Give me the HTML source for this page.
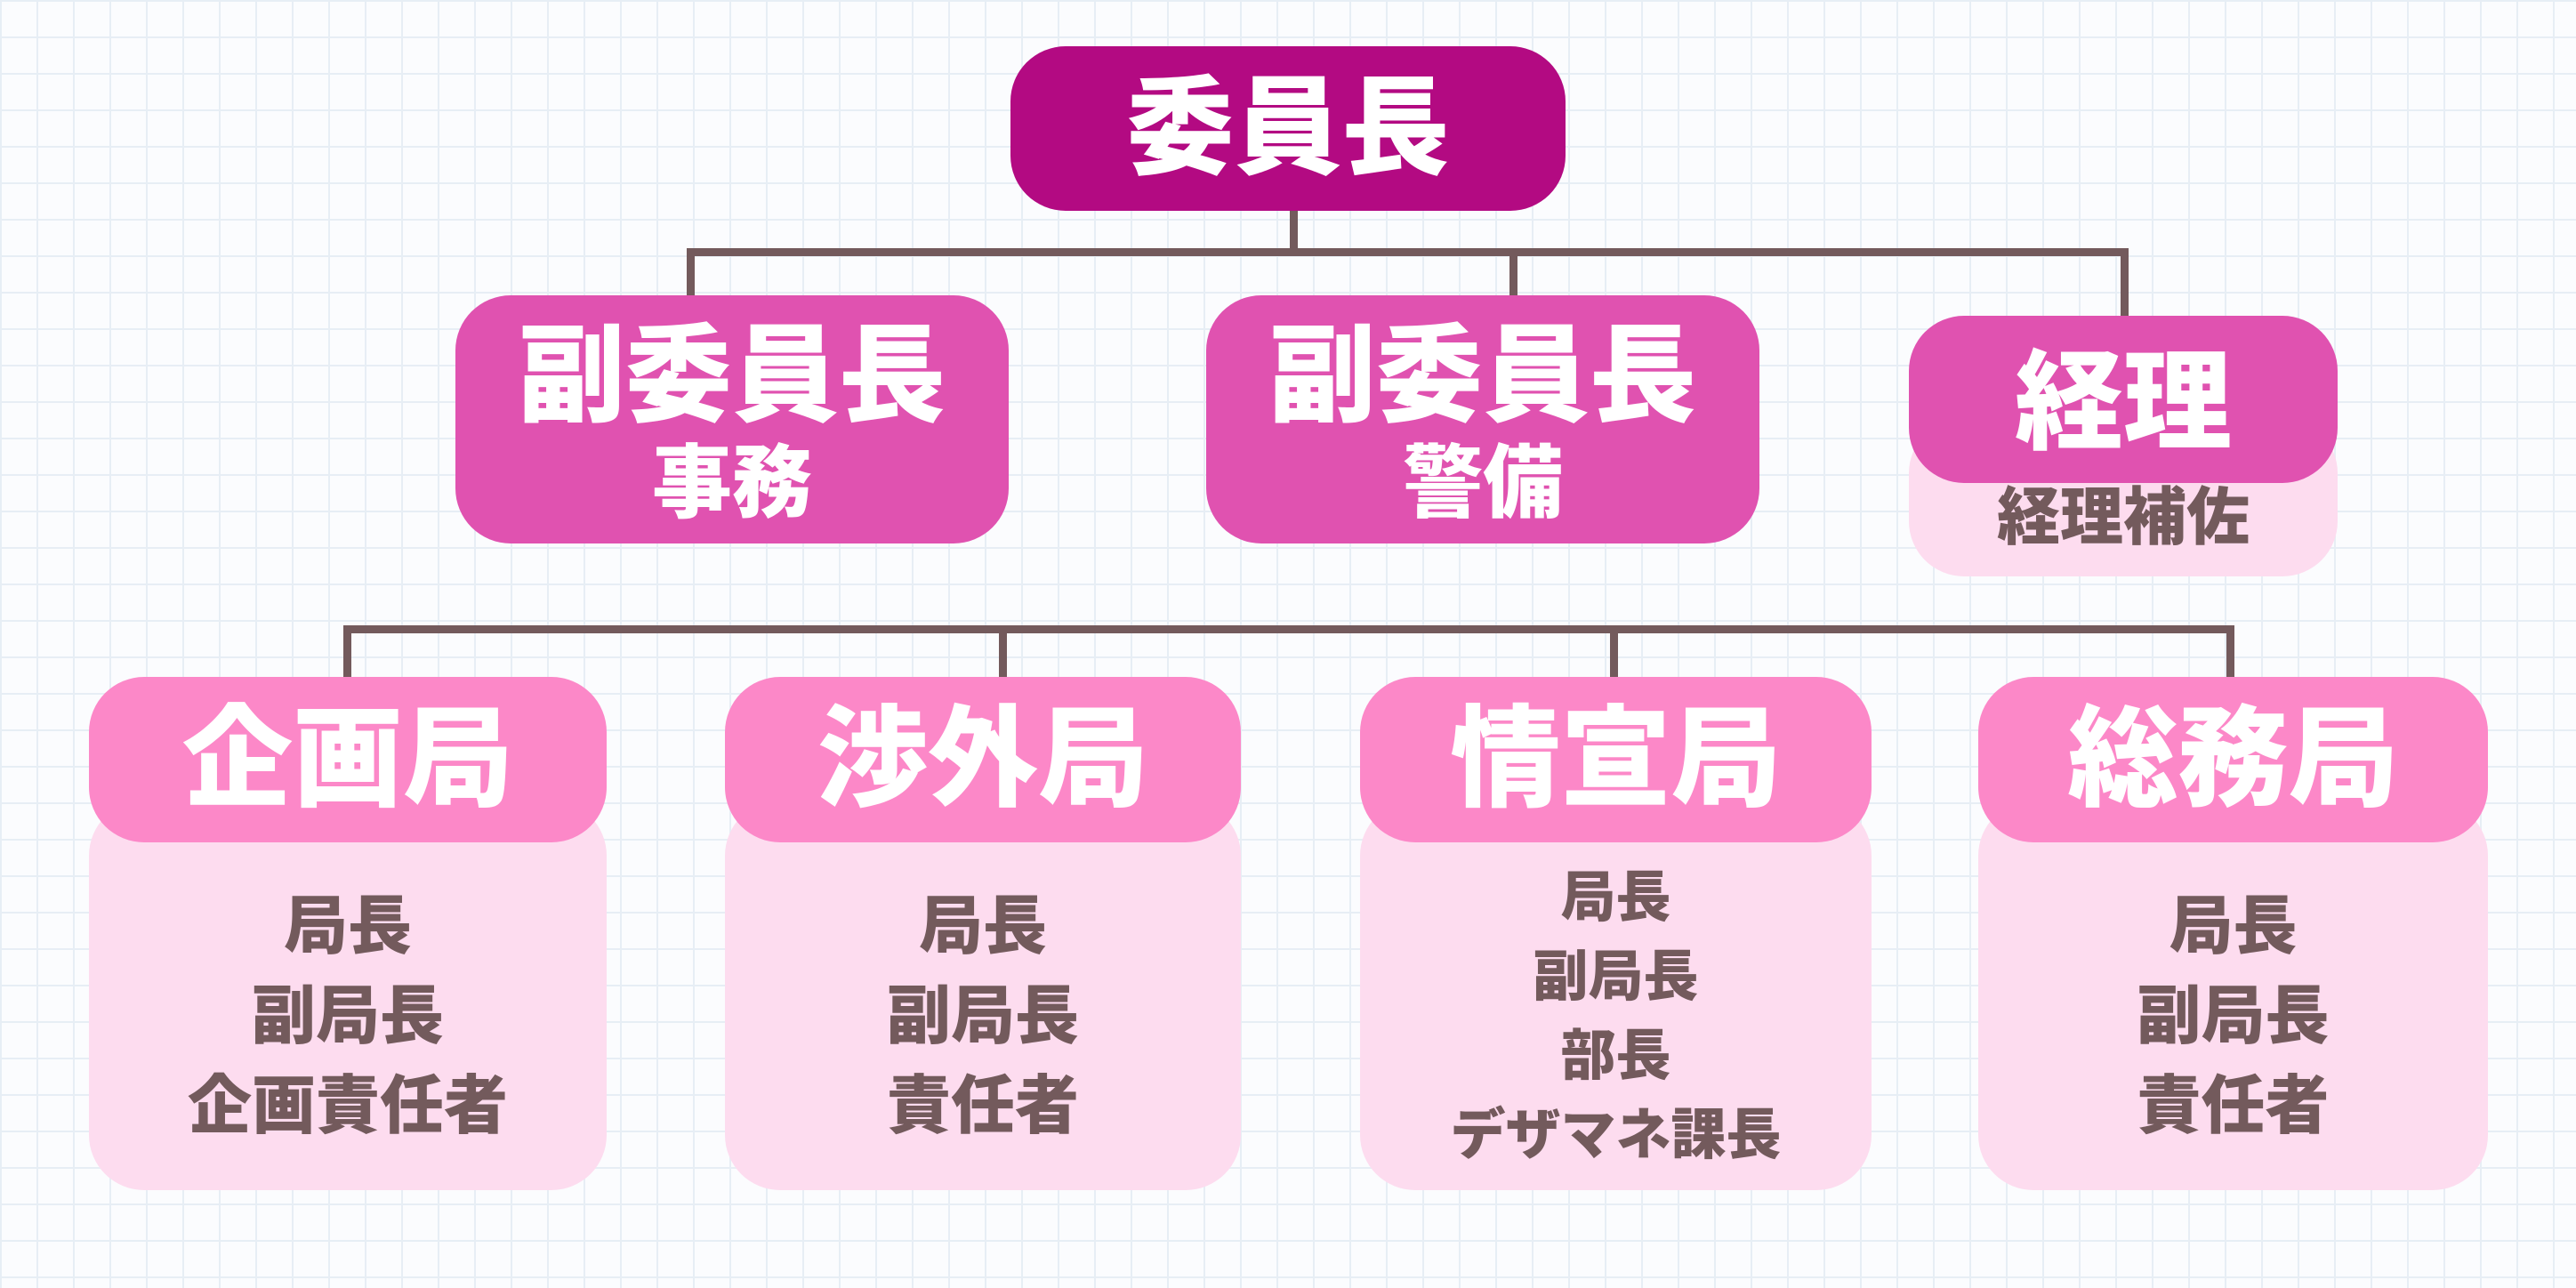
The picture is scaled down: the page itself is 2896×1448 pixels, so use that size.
<!DOCTYPE html>
<html><head><meta charset="utf-8"><style>
body{margin:0;width:2896px;height:1448px;overflow:hidden;background-color:#fbfcfe;
background-image:linear-gradient(#e7eef5 2px,transparent 2px),linear-gradient(90deg,#e7eef5 2px,transparent 2px);
background-size:41px 41px;position:relative;font-family:"Liberation Sans","Noto Sans CJK JP",sans-serif;font-weight:900}
.b{position:absolute;border-radius:62px;display:flex;flex-direction:column;align-items:center;justify-content:center;text-align:center}
.w{color:#fff}.d{color:#735a5c}
.l{position:absolute;background:#735a5c}
</style></head><body>
<div class="l" style="left:1450px;top:230px;width:9px;height:55px"></div>
<div class="l" style="left:772px;top:279px;width:1621px;height:9px"></div>
<div class="l" style="left:772px;top:279px;width:9px;height:60px"></div>
<div class="l" style="left:1697px;top:279px;width:9px;height:60px"></div>
<div class="l" style="left:2384px;top:279px;width:9px;height:80px"></div>
<div class="l" style="left:386px;top:703px;width:2125px;height:9px"></div>
<div class="l" style="left:386px;top:703px;width:9px;height:60px"></div>
<div class="l" style="left:1123px;top:703px;width:9px;height:60px"></div>
<div class="l" style="left:1810px;top:703px;width:9px;height:60px"></div>
<div class="l" style="left:2503px;top:703px;width:9px;height:60px"></div>

<div class="b w" style="left:1136px;top:52px;width:624px;height:185px;background:#b30a82;font-size:121px;line-height:1">委員長</div>
<div class="b w" style="left:512px;top:332px;width:622px;height:279px;background:#e052b0"><div style="font-size:120px;line-height:1;margin-top:12px">副委員長</div><div style="font-size:90px;line-height:1.05;margin-top:14px">事務</div></div>
<div class="b w" style="left:1356px;top:332px;width:622px;height:279px;background:#e052b0"><div style="font-size:120px;line-height:1;margin-top:12px">副委員長</div><div style="font-size:90px;line-height:1.05;margin-top:14px">警備</div></div>
<div class="b d" style="left:2146px;top:470px;width:482px;height:178px;background:#fddcef;font-size:71px;justify-content:flex-end;box-sizing:border-box"><div style="height:130px;line-height:130px">経理補佐</div></div>
<div class="b w" style="left:2146px;top:355px;width:482px;height:188px;background:#e052b0;font-size:122px;line-height:1;padding-top:8px;box-sizing:border-box">経理</div>

<div class="b d" style="left:100px;top:900px;width:582px;height:438px;background:#fddcef;font-size:72px;line-height:101px;padding-top:48px;box-sizing:border-box"><div>局長</div><div>副局長</div><div>企画責任者</div></div>
<div class="b d" style="left:815px;top:900px;width:580px;height:438px;background:#fddcef;font-size:72px;line-height:101px;padding-top:48px;box-sizing:border-box"><div>局長</div><div>副局長</div><div>責任者</div></div>
<div class="b d" style="left:1529px;top:900px;width:575px;height:438px;background:#fddcef;font-size:62px;line-height:89px;padding-top:48px;box-sizing:border-box"><div>局長</div><div>副局長</div><div>部長</div><div>デザマネ課長</div></div>
<div class="b d" style="left:2224px;top:900px;width:573px;height:438px;background:#fddcef;font-size:72px;line-height:101px;padding-top:48px;box-sizing:border-box"><div>局長</div><div>副局長</div><div>責任者</div></div>

<div class="b w" style="left:100px;top:761px;width:582px;height:186px;background:#fc88c8;font-size:124px;line-height:1">企画局</div>
<div class="b w" style="left:815px;top:761px;width:580px;height:186px;background:#fc88c8;font-size:124px;line-height:1">渉外局</div>
<div class="b w" style="left:1529px;top:761px;width:575px;height:186px;background:#fc88c8;font-size:124px;line-height:1">情宣局</div>
<div class="b w" style="left:2224px;top:761px;width:573px;height:186px;background:#fc88c8;font-size:124px;line-height:1">総務局</div>
</body></html>
